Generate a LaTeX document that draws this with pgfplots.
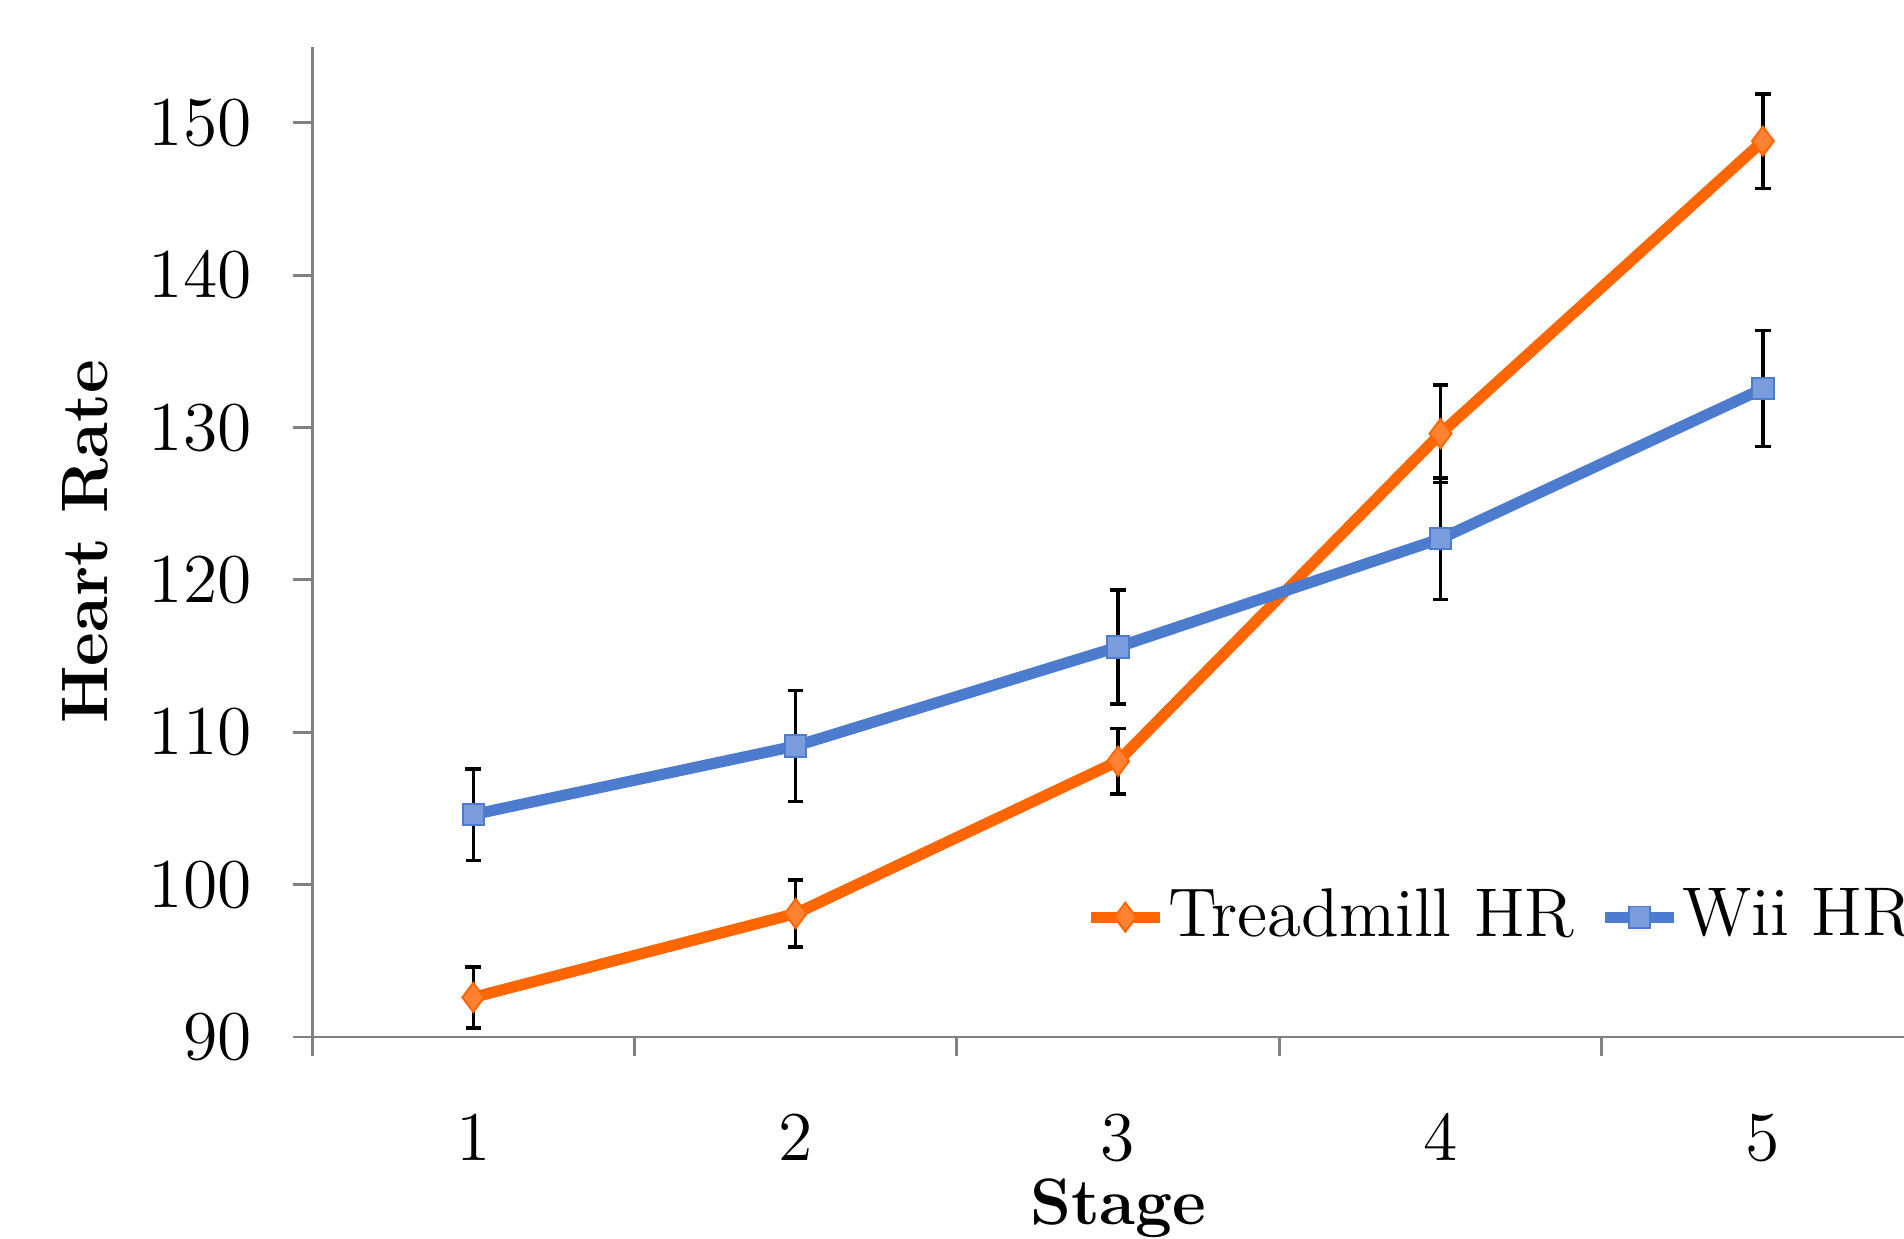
\documentclass[border=0pt]{standalone}
\usepackage{pgfplots}
\usepackage{pgfplotstable}
\pgfplotsset{compat=1.18}
\usetikzlibrary{calc}

\definecolor{tmline}{RGB}{255,102,0}
\definecolor{tmfill}{RGB}{255,130,50}
\definecolor{wiiline}{RGB}{77,124,207}
\definecolor{wiifill}{RGB}{122,156,221}
\definecolor{axgray}{RGB}{128,128,128}

% stage, mean heart rate, error
\pgfplotstableread{
x  tm     tmerr  wii    wiierr
1  92.6   2.0    104.6  3.0
2  98.1   2.2    109.1  3.65
3  108.1  2.15   115.6  3.75
4  129.6  3.2    122.7  4.0
5  148.8  3.1    132.55 3.8
}\hrdata

\begin{document}
\fontsize{13.5}{16}\selectfont
\begin{tikzpicture}
\begin{axis}[
    name=ax,
    scale only axis,
    width=331.9pt, height=203.9pt,
    xmin=0.5, xmax=5.5, ymin=90, ymax=155,
    axis x line=bottom, axis y line=left,
    axis line style={axgray, line width=0.6pt, -},
    tick align=outside,
    xtick={1,2,3,4,5},
    major x tick style={draw=none},
    minor xtick={0.5,1.5,2.5,3.5,4.5,5.5},
    minor x tick style={axgray, line width=0.6pt},
    minor tick length=4pt,
    ytick={90,100,110,120,130,140,150},
    major y tick style={axgray, line width=0.6pt},
    major tick length=4pt,
    ticklabel style={font=\fontsize{13.5}{16}\selectfont},
    xticklabel style={anchor=center, yshift=-16.75pt},
    yticklabel style={anchor=east, xshift=-3.75pt},
    xlabel={\bfseries Stage},
    ylabel={\bfseries Heart Rate},
    xlabel style={at={(axis description cs:0.5,-0.1729)}, anchor=center, font=\fontsize{13.5}{16}\selectfont},
    ylabel style={at={(axis description cs:-0.1409,0.5)}, anchor=center, font=\fontsize{13.5}{16}\selectfont},
    legend style={at={(axis description cs:0.479,0.121)}, anchor=west, draw=none, fill=none,
        font=\fontsize{14.2}{17}\selectfont, inner sep=0pt,
        nodes={inner sep=0.6pt},
        /tikz/every odd column/.append style={column sep=0pt},
        /tikz/every even column/.append style={column sep=4.5pt}},
    legend columns=2,
    legend cell align=left,
    legend image code/.code={\draw[mark repeat=2,mark phase=2] plot coordinates {(0cm,0cm) (0.25cm,0cm) (0.5cm,0cm)};},
    error bars/error bar style={black, line width=0.7pt},
    error bars/error mark options={black, line width=0.7pt, mark size=1.6pt, rotate=90},
]
\addplot[tmline, line width=2.3pt, mark=diamond*, mark size=3pt,
    mark options={fill=tmfill, draw=tmline, line width=0.4pt},
    error bars/.cd, y dir=both, y explicit]
    table[x=x, y=tm, y error=tmerr] {\hrdata};
\addlegendentry{Treadmill HR}
\addplot[wiiline, line width=2.3pt, mark=square*, mark size=2.2pt,
    mark options={fill=wiifill, draw=wiiline, line width=0.4pt},
    error bars/.cd, y dir=both, y explicit]
    table[x=x, y=wii, y error=wiierr] {\hrdata};
\addlegendentry{Wii HR}
\end{axis}
\pgfresetboundingbox
\path[use as bounding box] ($(ax.south west)+(-64.25pt,-41.5pt)$) rectangle ($(ax.south west)+(327.75pt,213.5pt)$);
\end{tikzpicture}
\end{document}
